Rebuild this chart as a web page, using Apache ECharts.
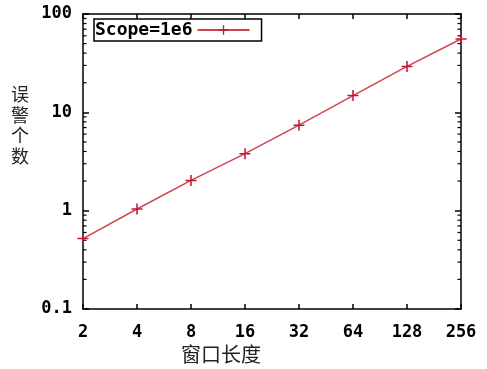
<!DOCTYPE html>
<html><head><meta charset="utf-8">
<script src="https://cdn.jsdelivr.net/npm/echarts@6/dist/echarts.min.js"></script>
<style>html,body{margin:0;padding:0;background:#fff}#c{width:487px;height:369px}</style>
</head><body><div id="c"></div>
<script>
const seriesName = 'Scope=1e6';
const xValues = [2, 4, 8, 16, 32, 64, 128, 256];
const yValues = [0.52, 1.04, 2.03, 3.8, 7.4, 14.8, 29.3, 55.7];
const yMinorTicks = [0.2,0.3,0.4,0.5,0.6,0.7,0.8,0.9,2,3,4,5,6,7,8,9,20,30,40,50,60,70,80,90];
const xName = '窗口长度';
const yName = '误警个数';

const chart = echarts.init(document.getElementById('c'));
const font = 'DejaVu Sans Mono';
const plus = 'path://M4.3,0h1.4v10h-1.4zM0,4.3h10v1.4h-10z';
chart.setOption({
  animation: false,
  backgroundColor: '#fff',
  grid: {left: 83, right: 26, top: 14, bottom: 60},
  legend: {
    data: [seriesName], left: 94, top: 19, align: 'right',
    borderColor: '#000', borderWidth: 1.5, borderRadius: 0, padding: [2, 11, 2, 1],
    itemWidth: 52, itemHeight: 12, itemGap: 12,
    textStyle: {fontFamily: font, fontWeight: 'bold', fontSize: 18, color: '#000'}
  },
  xAxis: [{
    type: 'log', logBase: 2, min: 2, max: 256,
    axisLine: {lineStyle: {color: '#000', width: 1.5}},
    axisTick: {inside: true, length: 5, lineStyle: {color: '#000', width: 1.5}},
    axisLabel: {margin: 15, fontFamily: font, fontWeight: 'bold', fontSize: 17, color: '#000'},
    splitLine: {show: false}
  }, {
    type: 'log', logBase: 2, min: 2, max: 256, position: 'top',
    axisLine: {lineStyle: {color: '#000', width: 1.5}},
    axisTick: {inside: true, length: 5, lineStyle: {color: '#000', width: 1.5}},
    axisLabel: {show: false}, splitLine: {show: false}
  }],
  yAxis: [{
    type: 'log', logBase: 10, min: 0.1, max: 100,
    axisLine: {lineStyle: {color: '#000', width: 1.5}},
    axisTick: {inside: true, length: 6, lineStyle: {color: '#000', width: 1.5}},
    axisLabel: {margin: 11, fontFamily: font, fontWeight: 'bold', fontSize: 17, color: '#000'},
    splitLine: {show: false}
  }, {
    type: 'log', logBase: 10, min: 0.1, max: 100, position: 'right',
    axisLine: {lineStyle: {color: '#000', width: 1.5}},
    axisTick: {inside: true, length: 6, lineStyle: {color: '#000', width: 1.5}},
    axisLabel: {show: false}, splitLine: {show: false}
  }],
  graphic: [
    {type: 'text', left: 11, top: 84, style: {text: yName.split('').join('\n'), font: '18px "Noto Sans CJK SC"', lineHeight: 20.5, fill: '#222'}},
    {type: 'text', left: 181, top: 344, style: {text: xName, font: '20px "Noto Sans CJK SC"', fill: '#222'}}
  ],
  series: [{
    name: seriesName, type: 'line',
    data: xValues.map((x, i) => [x, yValues[i]]),
    symbol: plus, symbolSize: 11, showSymbol: true,
    lineStyle: {color: '#d2434f', width: 1.5},
    itemStyle: {color: '#c01830'},
    clip: false, z: 3
  }, {
    name: 'minor', type: 'custom', silent: true, clip: false,
    data: yMinorTicks.map(v => [2, v]),
    renderItem: function (params, api) {
      const v = api.value(1);
      const l = api.coord([2, v]);
      const r = api.coord([256, v]);
      const st = {stroke: '#000', lineWidth: 1.2};
      return {type: 'group', children: [
        {type: 'line', shape: {x1: l[0], y1: l[1], x2: l[0] + 3.5, y2: l[1]}, style: st},
        {type: 'line', shape: {x1: r[0], y1: r[1], x2: r[0] - 3.5, y2: r[1]}, style: st}
      ]};
    }
  }]
});
</script></body></html>
